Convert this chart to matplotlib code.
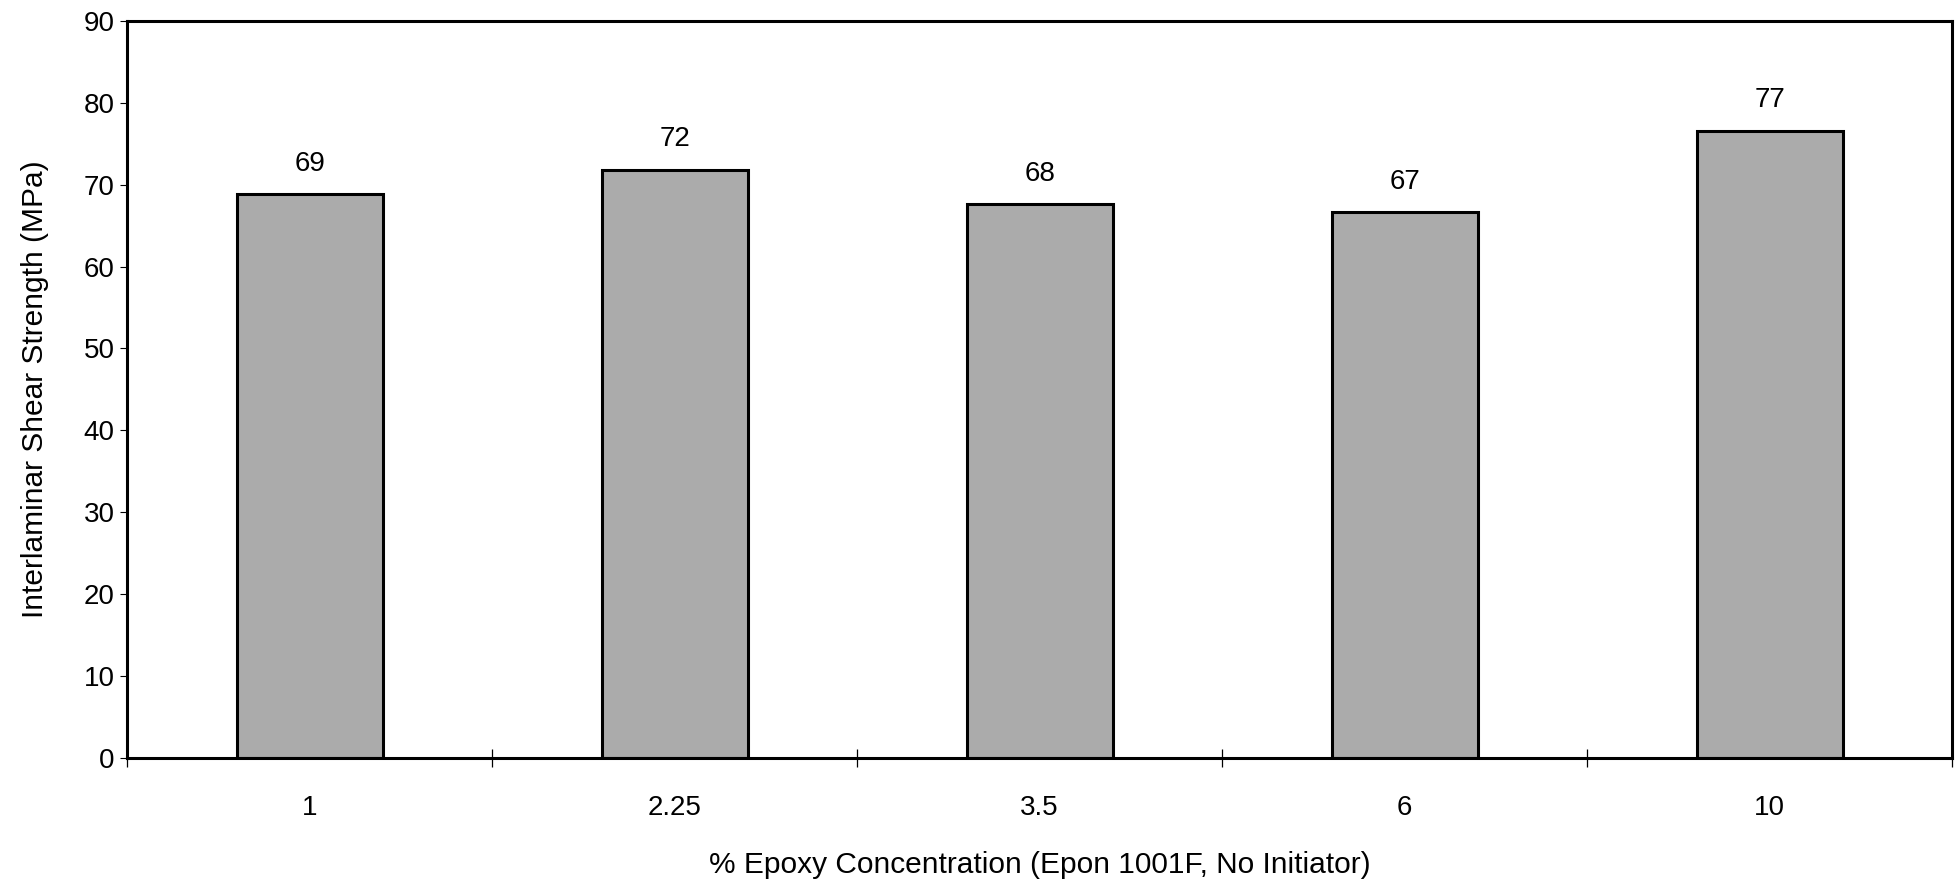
import numpy as np
import matplotlib
matplotlib.use('Agg')
import matplotlib.pyplot as plt

# Epoxy concentration (%) vs interlaminar shear strength (MPa)
categories = ['1', '2.25', '3.5', '6', '10']
strength = [68.8, 71.8, 67.6, 66.6, 76.6]
bar_labels = ['69', '72', '68', '67', '77']
y_ticks = [0, 10, 20, 30, 40, 50, 60, 70, 80, 90]

plt.rcParams['font.family'] = ['Liberation Sans', 'DejaVu Sans']

fig = plt.figure(figsize=(19.56, 8.86), dpi=100)
ax = fig.add_axes([0.065, 0.1445, 0.933, 0.832])

x_pos = np.arange(len(categories))
bars = ax.bar(x_pos, strength, width=0.4, color='#ababab',
              edgecolor='black', linewidth=2.2)

for rect, lab in zip(bars, bar_labels):
    ax.annotate(lab, (rect.get_x() + rect.get_width() / 2, rect.get_height()),
                xytext=(0, 22), textcoords='offset points',
                ha='center', va='center', fontsize=20)

ax.set_xlim(-0.5, len(categories) - 0.5)
ax.set_ylim(0, 90)
ax.set_yticks(y_ticks)
ax.tick_params(axis='y', labelsize=20, direction='out', length=5,
               width=0.8, pad=4)

# category labels centred, tick marks at the category boundaries
ax.set_xticks(x_pos)
ax.set_xticklabels(categories)
ax.set_xticks(np.arange(-0.5, len(categories)), minor=True)
ax.tick_params(axis='x', which='major', length=0, labelsize=20, pad=27)
ax.tick_params(axis='x', which='minor', direction='inout', length=13,
               width=0.9)

for sp in ax.spines.values():
    sp.set_linewidth(2.2)

ax.set_ylabel('Interlaminar Shear Strength (MPa)', fontsize=21.5)
ax.yaxis.set_label_coords(-0.043, 0.5)
ax.set_xlabel('% Epoxy Concentration (Epon 1001F, No Initiator)',
              fontsize=21.5)
ax.xaxis.set_label_coords(0.5, -0.126)

plt.savefig('out.png', dpi=100)
plt.close()
